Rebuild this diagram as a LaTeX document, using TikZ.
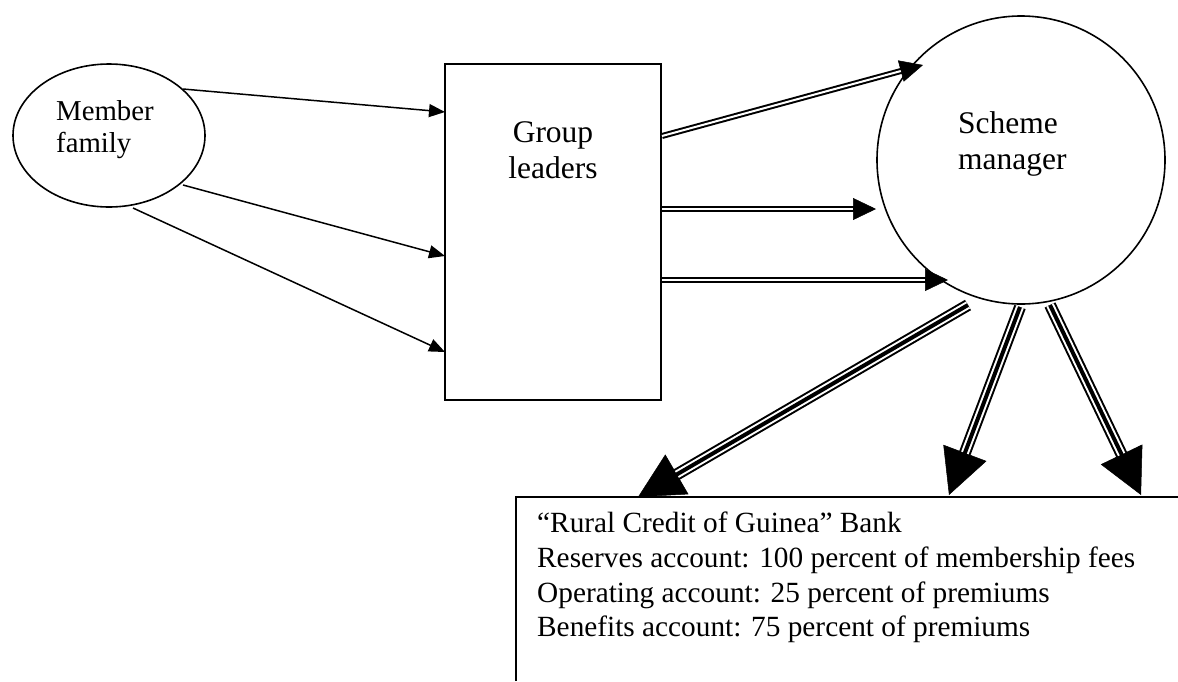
\documentclass[tikz,border=0pt]{standalone}
\usepackage{fontspec}
\setmainfont{Liberation Serif}
\usetikzlibrary{arrows.meta,shapes.geometric}
\tikzset{
  shapeline/.style={draw, line width=1.6pt, inner sep=0pt},
  txt/.style={inner sep=0pt},
  thinarrow/.style={line width=1.5pt, -{Triangle[length=16pt,width=13pt]}},
  dhead/.style={line width=0.5pt, -{Triangle[length=23pt,width=22pt]}},
  thead/.style={line width=0.5pt, -{Triangle[length=45pt,width=46pt]}},
}
\newcommand\dblarrow[2]{%
  \draw[dhead] (#1) -- (#2);
  \draw[line width=6pt, shorten >=16pt] (#1) -- (#2);
  \draw[line width=2pt, white, shorten >=23pt] (#1) -- (#2);
}
\newcommand\triarrow[2]{%
  \draw[thead] (#1) -- (#2);
  \draw[line width=12pt, shorten >=30pt] (#1) -- (#2);
  \draw[line width=8pt, white, shorten >=45pt] (#1) -- (#2);
  \draw[line width=4pt, shorten >=40pt] (#1) -- (#2);
}
\begin{document}
\begin{tikzpicture}[x=1pt,y=-1pt]
\useasboundingbox (0,0) rectangle (1178,681);
% shapes
\node[shapeline, ellipse, minimum width=192pt, minimum height=143pt] (mf) at (109,135.5) {};
\node[shapeline, rectangle, line width=2pt, minimum width=216pt, minimum height=336pt] (gl) at (553,232) {};
\node[shapeline, circle, minimum size=288pt] (sm) at (1021,160) {};
% bank box (open)
\coordinate (bankBL) at (516,681);
\coordinate (bankTL) at (516,497);
\coordinate (bankTR) at (1178,497);
\draw[line width=2pt] (bankBL) -- (bankTL) -- (bankTR);
% texts
\begin{scope}[every node/.style={txt}]
\node[anchor=base west, font=\fontsize{28.8}{32}\selectfont] (mf1) at (56,120) {Member};
\node[anchor=base west, font=\fontsize{28.8}{32}\selectfont] (mf2) at (56,152) {family};
\node[anchor=base, font=\fontsize{31.5}{36}\selectfont] (gl1) at (553,142) {Group};
\node[anchor=base, font=\fontsize{31.5}{36}\selectfont] (gl2) at (553,178) {leaders};
\node[anchor=base west, font=\fontsize{31.5}{36}\selectfont] (sm1) at (958,133) {Scheme};
\node[anchor=base west, font=\fontsize{31.5}{36}\selectfont] (sm2) at (958,169) {manager};
\node[anchor=base west, font=\fontsize{29.3}{34}\selectfont] (b1) at (537,532) {“Rural Credit of Guinea” Bank};
\node[anchor=base west, font=\fontsize{29.3}{34}\selectfont] (b2) at (537,567) {Reserves account: 100 percent of membership fees};
\node[anchor=base west, font=\fontsize{29.3}{34}\selectfont] (b3) at (537,602) {Operating account: 25 percent of premiums};
\node[anchor=base west, font=\fontsize{29.3}{34}\selectfont] (b4) at (537,636) {Benefits account: 75 percent of premiums};
\end{scope}
% connector end points
\coordinate (m1) at (183,89);   \coordinate (g1) at (445,112);
\coordinate (m2) at (183,185);  \coordinate (g2) at (445,256);
\coordinate (m3) at (133,208);  \coordinate (g3) at (445,352);
\coordinate (ga) at (662,136);  \coordinate (sa) at (923,65);
\coordinate (gb) at (662,209);  \coordinate (sb) at (876,209);
\coordinate (gc) at (662,280);  \coordinate (sc) at (948,280);
\coordinate (sd) at (968,305);  \coordinate (bd) at (638,497);
\coordinate (se) at (1020,307); \coordinate (be) at (949,495);
\coordinate (sf) at (1050,305); \coordinate (bf) at (1141,495);
% member family -> group leaders
\draw[thinarrow] (m1) -- (g1);
\draw[thinarrow] (m2) -- (g2);
\draw[thinarrow] (m3) -- (g3);
% group leaders -> scheme manager
\dblarrow{ga}{sa}
\dblarrow{gb}{sb}
\dblarrow{gc}{sc}
% scheme manager -> bank
\triarrow{sd}{bd}
\triarrow{se}{be}
\triarrow{sf}{bf}
\end{tikzpicture}
\end{document}
